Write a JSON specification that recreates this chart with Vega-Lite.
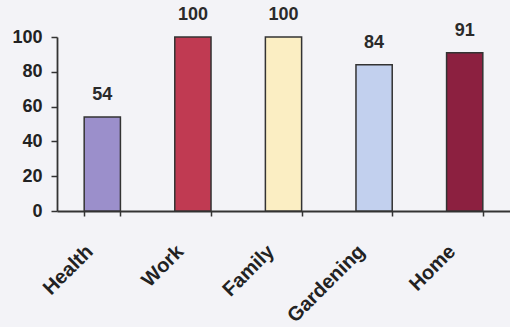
{
  "$schema": "https://vega.github.io/schema/vega-lite/v6.json",
  "autosize": "none",
  "padding": {"left": 57, "top": 37, "right": 0, "bottom": 116},
  "width": 453,
  "height": 174,
  "background": "#f3f3f7",
  "config": {
    "view": {"stroke": null},
    "font": "Liberation Sans"
  },
  "data": {
    "values": [
      {"category": "Health", "value": 54},
      {"category": "Work", "value": 100},
      {"category": "Family", "value": 100},
      {"category": "Gardening", "value": 84},
      {"category": "Home", "value": 91}
    ]
  },
  "encoding": {
    "x": {
      "field": "category",
      "type": "nominal",
      "sort": null,
      "scale": {"paddingInner": 0.6, "paddingOuter": 0.3},
      "axis": {
        "title": null,
        "labelAngle": -45,
        "labelFont": "Liberation Sans",
        "labelFontWeight": "bold",
        "labelFontSize": 20,
        "labelColor": "#222222",
        "labelPadding": 25,
        "labelOffset": -20,
        "tickBand": "extent",
        "tickSize": 5,
        "tickColor": "#333333",
        "tickWidth": 1.5,
        "domainColor": "#333333",
        "domainWidth": 1.8,
        "grid": false
      }
    },
    "y": {
      "field": "value",
      "type": "quantitative",
      "scale": {"domain": [0, 100], "nice": false},
      "axis": {
        "title": null,
        "values": [0, 20, 40, 60, 80, 100],
        "labelFont": "Liberation Sans",
        "labelFontWeight": "bold",
        "labelFontSize": 18,
        "labelColor": "#222222",
        "labelPadding": 9,
        "tickSize": 6,
        "tickColor": "#333333",
        "tickWidth": 1.5,
        "domainColor": "#333333",
        "domainWidth": 1.8,
        "grid": false
      }
    }
  },
  "layer": [
    {
      "mark": {"type": "bar", "stroke": "#333333", "strokeWidth": 1.5},
      "encoding": {
        "color": {
          "field": "category",
          "type": "nominal",
          "legend": null,
          "scale": {
            "domain": ["Health", "Work", "Family", "Gardening", "Home"],
            "range": ["#9b8fcb", "#c03a52", "#fbeec3", "#c2d0ee", "#8c2040"]
          }
        }
      }
    },
    {
      "mark": {"type": "text", "baseline": "alphabetic", "dy": -17, "fontSize": 18, "fontWeight": "bold", "color": "#2a2a2a", "font": "Liberation Sans"},
      "encoding": {"text": {"field": "value", "type": "quantitative"}}
    }
  ]
}
